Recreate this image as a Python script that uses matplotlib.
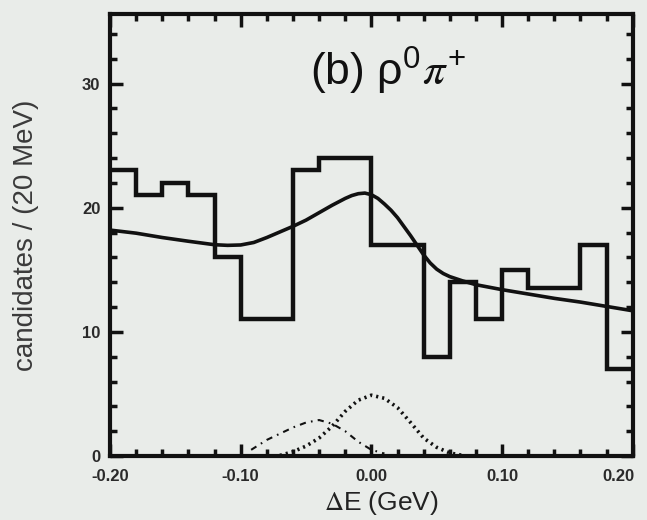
import numpy as np
import matplotlib
matplotlib.use("Agg")
from matplotlib import pyplot as plt
from matplotlib import transforms
from matplotlib.ticker import MultipleLocator, FixedLocator, FixedFormatter

# histogram: candidates per 20 MeV bin, dE from -0.20 to 0.20 GeV
bin_lo = -0.20
bin_width = 0.02
counts = [23, 21, 22, 21, 16, 11, 11, 23, 24, 24,
          17, 17, 8, 14, 11, 15, 13.5, 13.5, 17, 7]

# total fit curve
fit_x = [-0.20, -0.18, -0.16, -0.14, -0.12, -0.11, -0.10, -0.09, -0.08, -0.07,
         -0.06, -0.05, -0.04, -0.03, -0.02, -0.015, -0.01, -0.005, 0.00, 0.005,
         0.01, 0.015, 0.02, 0.03, 0.04, 0.045, 0.05, 0.055, 0.06, 0.07,
         0.08, 0.10, 0.12, 0.14, 0.16, 0.18, 0.20]
fit_y = [18.2, 17.95, 17.6, 17.3, 17.02, 16.97, 17.0, 17.2, 17.6, 18.05,
         18.5, 19.0, 19.6, 20.2, 20.75, 20.98, 21.13, 21.18, 21.05, 20.75,
         20.3, 19.8, 19.2, 17.75, 16.2, 15.55, 15.05, 14.7, 14.45, 14.1,
         13.8, 13.4, 13.05, 12.7, 12.4, 12.05, 11.7]

# signal component (thick dots)
sig_x = [-0.07, -0.06, -0.05, -0.04, -0.03, -0.02, -0.01, 0.00, 0.01, 0.02,
         0.03, 0.04, 0.05, 0.06, 0.07]
sig_y = [0.05, 0.35, 0.8, 1.45, 2.4, 3.6, 4.5, 4.9, 4.65, 3.9,
         2.7, 1.45, 0.7, 0.25, 0.05]

# cross-feed component (dash-dot)
xf_x = [-0.092, -0.08, -0.07, -0.06, -0.05, -0.04, -0.03, -0.02, -0.01, 0.00, 0.01]
xf_y = [0.5, 1.3, 1.8, 2.3, 2.7, 2.9, 2.6, 2.0, 1.15, 0.5, 0.2]

x_ticks = [-0.20, -0.10, 0.00, 0.10, 0.20]
x_tick_labels = ['-0.20', '-0.10', '0.00', '0.10', '0.20']
y_ticks = [0, 10, 20, 30]

bg = '#e9ece9'
ink = '#111111'

plt.rcParams['font.family'] = ['Liberation Sans', 'DejaVu Sans']
plt.rcParams['mathtext.fontset'] = 'stix'

fig = plt.figure(figsize=(6.47, 5.2), dpi=100, facecolor=bg)
ax = fig.add_axes([0.170, 0.123, 0.808, 0.850], facecolor=bg)

edges = bin_lo + bin_width * np.arange(len(counts) + 1)
ax.stairs(counts, edges, baseline=None, color=ink, lw=3.2)

ax.plot(fit_x, fit_y, color=ink, lw=2.6, solid_joinstyle='round')
ax.plot(sig_x, sig_y, color=ink, lw=2.6, ls=(0, (0.6, 1.1)))
ax.plot(xf_x, xf_y, color=ink, lw=1.5, ls=(0, (3, 2.5, 0.8, 2.5)))

ax.set_xlim(-0.20, 0.20)
ax.set_ylim(0, 35.6)

# ticks inward on all four sides
ax.xaxis.set_major_locator(FixedLocator(x_ticks))
ax.xaxis.set_major_formatter(FixedFormatter(x_tick_labels))
ax.xaxis.set_minor_locator(MultipleLocator(0.02))
ax.yaxis.set_major_locator(FixedLocator(y_ticks))
ax.yaxis.set_minor_locator(MultipleLocator(2))
ax.tick_params(which='both', direction='in', top=True, right=True,
               color=ink, width=2.5)
ax.tick_params(which='major', length=9)
ax.tick_params(which='minor', length=5)
ax.tick_params(axis='x', which='major', pad=9)
ax.tick_params(axis='y', which='major', pad=7)
for lab in ax.get_xticklabels() + ax.get_yticklabels():
    lab.set_fontsize(12)
    lab.set_fontweight('bold')
    lab.set_color('#2a2a2a')

# last x label sits a bit inside the right edge, like the original
last = ax.get_xticklabels()[-1]
last.set_transform(last.get_transform() +
                   transforms.ScaledTranslation(-10 / 72, 0, fig.dpi_scale_trans))

for s in ax.spines.values():
    s.set_linewidth(3)
    s.set_color(ink)

ax.set_xlabel(r'$\Delta$E (GeV)', fontsize=19, color='#222222')
ax.xaxis.set_label_coords(0.52, -0.075)
ax.set_ylabel('candidates / (20 MeV)', fontsize=20, color='#3a3a3a')
ax.yaxis.set_label_coords(-0.135, 0.5)

ax.text(0.0125, 31.1, r'(b) ρ$^{\mathregular{0}}\pi^{\mathregular{+}}$', fontsize=32,
        ha='center', va='center', color=ink)

fig.savefig('out.png', dpi=100, facecolor=bg)
